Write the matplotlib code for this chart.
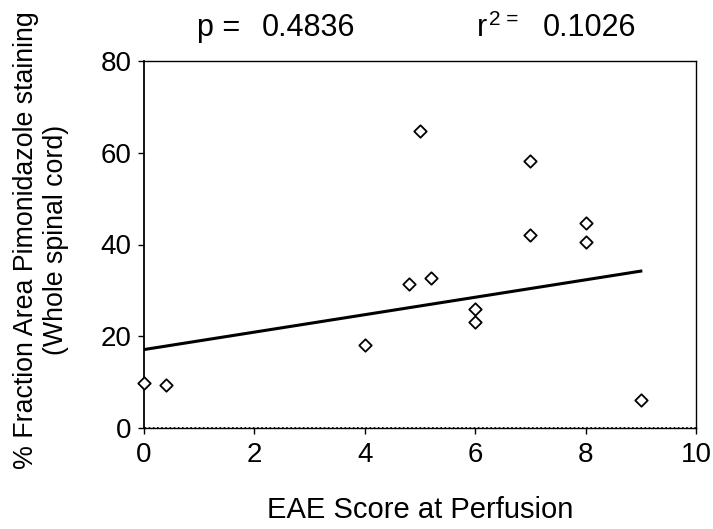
import numpy as np
import matplotlib.pyplot as plt

plt.rcParams['font.family'] = ['Liberation Sans', 'DejaVu Sans']

# scatter values
eae_score = [0.0, 0.4, 4.0, 4.8, 5.0, 5.2, 6.0, 6.0, 7.0, 7.0, 8.0, 8.0, 9.0]
fraction_area = [9.8, 9.4, 18.0, 31.3, 64.7, 32.7, 26.0, 23.1, 58.3, 42.0, 44.7, 40.6, 6.0]

# fitted line end points
fit_x = [0.0, 9.0]
fit_y = [17.1, 34.2]

p_value = "0.4836"
r2_value = "0.1026"

W, H = 713, 529
fig = plt.figure(figsize=(W / 100, H / 100), dpi=100)
# axes box in pixels: left 144, right 696, top 61, bottom 428
ax = fig.add_axes([144 / W, 1 - 428 / H, 552 / W, 367 / H])

ax.plot(fit_x, fit_y, color='black', lw=2.2, zorder=2)
ax.scatter(eae_score, fraction_area, marker='D', s=40, facecolor='white',
           edgecolor='black', linewidths=1.3, zorder=3, clip_on=False)
ax.axhline(0, color='black', lw=2.0, ls=(0, (0.6, 0.9)), zorder=1)

ax.set_xlim(0, 10)
ax.set_ylim(0, 80)
ax.set_xticks([0, 2, 4, 6, 8, 10])
ax.set_yticks([0, 20, 40, 60, 80])
ax.tick_params(direction='out', length=4, width=1, labelsize=20)
ax.tick_params(axis='y', pad=5)
ax.tick_params(axis='x', pad=6)
for s in ax.spines.values():
    s.set_linewidth(1)
ax.spines['left'].set_linewidth(1.3)

ax.set_xlabel('EAE Score at Perfusion', fontsize=21)
ax.xaxis.set_label_coords(0.5, -0.185)

fig.text(41 / W, 1 - 240 / H,
         '% Fraction Area Pimonidazole staining\n(Whole spinal cord)',
         rotation=90, ha='center', va='center', multialignment='center',
         fontsize=19.3, linespacing=1.2)

base = 1 - 36 / H
fig.text(197 / W, base, 'p =', fontsize=22, va='baseline')
fig.text(262 / W, base, p_value, fontsize=22, va='baseline')
fig.text(477 / W, base, 'r', fontsize=22, va='baseline')
fig.text(489 / W, 1 - 25 / H, '2 =', fontsize=15, va='baseline')
fig.text(543 / W, base, r2_value, fontsize=22, va='baseline')

fig.savefig('out.png', dpi=100)
